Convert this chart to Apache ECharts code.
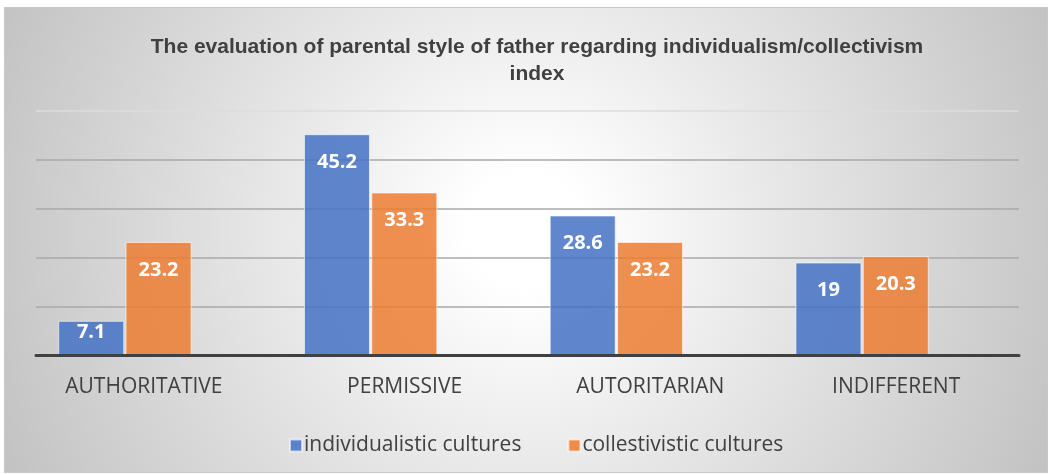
<!DOCTYPE html>
<html>
<head>
<meta charset="utf-8">
<script src="https://cdn.jsdelivr.net/npm/echarts@6/dist/echarts.min.js"></script>
<style>
html,body{margin:0;padding:0;background:#fff;}
#wrap{position:relative;width:1051px;height:474px;overflow:hidden;}
#bg{position:absolute;left:4px;top:7px;width:1042px;height:464px;border:1px solid #c8c8c8;
 background:radial-gradient(circle farthest-corner at 50% 48%, #ffffff 0%, #ffffff 10%, #eaeaea 40%, #c9c9c9 90%, #c2c2c2 100%);}
#chart{position:absolute;left:0;top:0;width:1051px;height:474px;}
</style>
</head>
<body>
<div id="wrap"><div id="bg"></div><div id="chart"></div></div>
<script>
const titleText = 'The evaluation of parental style of father regarding individualism/collectivism\nindex';
const categories = ['AUTHORITATIVE', 'PERMISSIVE', 'AUTORITARIAN', 'INDIFFERENT'];
const individualistic = [7.1, 45.2, 28.6, 19];
const collectivistic = [23.2, 33.3, 23.2, 20.3];
const seriesNames = ['individualistic cultures', 'collestivistic cultures'];

const chart = echarts.init(document.getElementById('chart'), null, {renderer: 'canvas'});
const blue = 'rgba(68,114,196,0.85)';
const orange = 'rgba(237,125,49,0.85)';

function toData(arr) {
  return arr.map(v => ({
    value: v,
    label: {distance: v < 10 ? 1 : 18}
  }));
}

const labelStyle = {
  show: true,
  position: 'insideTop',
  color: '#ffffff',
  fontFamily: 'Open Sans',
  fontWeight: 'bold',
  fontSize: 20
};

const catData = categories.map((c, i) => i === 0
  ? {value: c, textStyle: {padding: [0, 30, 0, 0]}}
  : {value: c});

chart.setOption({
  animation: false,
  backgroundColor: 'transparent',
  title: {
    text: titleText,
    left: 532,
    top: 29,
    textAlign: 'center',
    textStyle: {
      fontFamily: 'Liberation Sans',
      fontWeight: 'bold',
      fontSize: 21,
      lineHeight: 27,
      color: '#404040'
    }
  },
  legend: {
    top: 430,
    left: 284,
    itemWidth: 12,
    itemHeight: 12,
    itemGap: 46,
    icon: 'rect',
    textStyle: {fontFamily: 'Open Sans', fontSize: 21, color: '#404040', padding: [0, 0, 0, -3]},
    data: seriesNames
  },
  grid: [
    {left: 36, right: 32, top: 110.7, bottom: 118.4},
    {left: 2, right: 66, top: 110.7, bottom: 118.4}
  ],
  xAxis: [
    {
      type: 'category', gridIndex: 0, data: catData,
      axisLine: {show: true, lineStyle: {color: '#404040', width: 3}},
      axisTick: {show: false},
      axisLabel: {fontFamily: 'Open Sans', fontSize: 21, color: '#404040', margin: 21},
      z: 5
    },
    {
      type: 'category', gridIndex: 1, data: categories,
      axisLine: {show: false}, axisTick: {show: false}, axisLabel: {show: false}
    }
  ],
  yAxis: [
    {
      type: 'value', gridIndex: 0, min: 0, max: 50, interval: 10,
      axisLine: {show: false}, axisTick: {show: false}, axisLabel: {show: false},
      splitLine: {show: true, lineStyle: {color: ['#a8a8a8', '#a8a8a8', '#a8a8a8', '#a8a8a8', '#a8a8a8', '#dcdcdc'], width: 1.5}}
    },
    {
      type: 'value', gridIndex: 1, min: 0, max: 50, interval: 10,
      axisLine: {show: false}, axisTick: {show: false}, axisLabel: {show: false},
      splitLine: {show: false}
    }
  ],
  series: [
    {
      name: seriesNames[0], type: 'bar', xAxisIndex: 1, yAxisIndex: 1,
      data: toData(individualistic),
      barWidth: 66, barGap: '2%',
      itemStyle: {color: blue, borderColor: 'rgba(255,255,255,0.6)', borderWidth: 1},
      label: labelStyle,
      z: 3
    },
    {
      name: seriesNames[1], type: 'bar', xAxisIndex: 1, yAxisIndex: 1,
      data: toData(collectivistic),
      barWidth: 66, barGap: '2%',
      itemStyle: {color: orange, borderColor: 'rgba(255,255,255,0.6)', borderWidth: 1},
      label: labelStyle,
      z: 3
    }
  ]
});
</script>
</body>
</html>
